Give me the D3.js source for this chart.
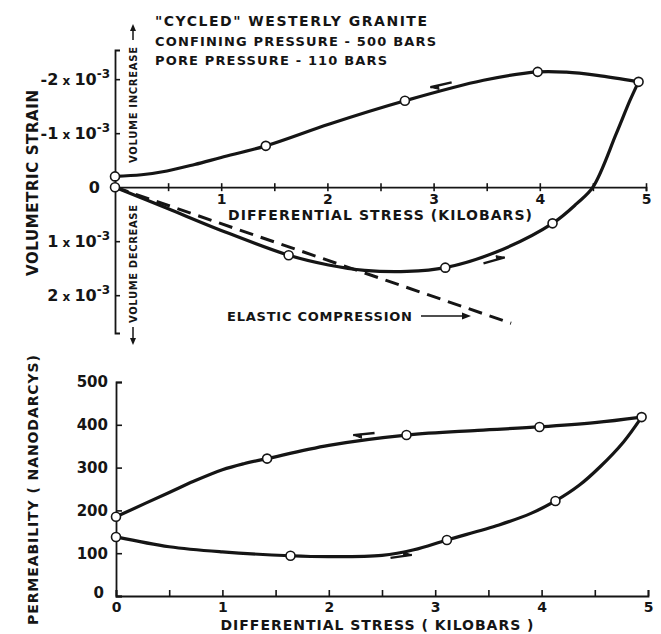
<!DOCTYPE html>
<html><head><meta charset="utf-8">
<script src="https://cdn.jsdelivr.net/npm/d3@7"></script>
<style>
body{margin:0;background:#fff}
text{font-family:"DejaVu Sans",sans-serif;font-weight:bold;fill:#151515}
</style>
</head><body>
<svg id="c" width="661" height="634"></svg>
<script>
// ---------------- DATA ----------------
const stressTicks = [0,0.5,1,1.5,2,2.5,3,3.5,4,4.5,5];
const strainTicks = [-2,-1,0,1,2];                 // units of 10^-3 (positive = volume decrease)
const strainTickMantissa = ["-2","-1","0","1","2"];
const permTicks = [0,100,200,300,400,500];

const titleLines = ["\"CYCLED\" WESTERLY GRANITE","CONFINING PRESSURE - 500 BARS","PORE PRESSURE - 110 BARS"];

// volumetric strain (x10^-3), loading branch and unloading branch
const strainLoadMarkers   = [[0,0],[1.635,1.26],[3.11,1.49],[4.12,0.67],[4.93,-1.95]];
const strainUnloadMarkers = [[3.98,-2.135],[2.73,-1.60],[1.42,-0.765],[0,-0.2]];
const strainLoadTrace   = [[0,0],[0.49,0.39],[1.0,0.80],[1.635,1.26],[2.01,1.44],[2.35,1.54],[2.75,1.56],[3.11,1.49],[3.59,1.20],[4.12,0.67],[4.35,0.30],[4.5,0],[4.72,-0.99],[4.85,-1.61],[4.93,-1.95]];
const strainUnloadTrace = [[4.93,-1.95],[4.54,-2.07],[4.25,-2.13],[3.98,-2.135],[3.47,-1.98],[2.73,-1.60],[2.02,-1.17],[1.42,-0.765],[1.0,-0.55],[0.75,-0.42],[0.49,-0.30],[0.25,-0.23],[0,-0.2]];
const elasticLine = [[0,0],[3.73,2.52]];
const strainArrows = [[3.17,-1.94,2.97,-1.85],[3.47,1.41,3.67,1.30]]; // tail -> head

// permeability (nanodarcys)
const permLoadMarkers   = [[0,138],[1.64,94],[3.11,131],[4.13,222],[4.94,418]];
const permUnloadMarkers = [[3.98,395],[2.73,376],[1.42,321],[0,185]];
const permLoadTrace   = [[0,138],[0.5,115],[1.0,103],[1.64,94],[2.0,92],[2.5,95],[2.8,108],[3.11,131],[3.6,166],[3.9,193],[4.13,222],[4.35,258],[4.55,302],[4.77,360],[4.94,418]];
const permUnloadTrace = [[4.94,418],[4.5,405],[3.98,395],[3.4,387],[2.73,376],[2.0,352],[1.42,321],[1.2,309],[1.0,295],[0.73,268],[0.5,242],[0,185]];
const permArrows = [[2.43,381,2.23,376],[2.58,89,2.78,96]];

// ---------------- DRAW ----------------
const svg = d3.select("#c");
const ink = "#151515";

const xTop = d3.scaleLinear().domain([0,5]).range([115,646]);
const yTop = d3.scaleLinear().domain([-2.54,2.7]).range([50,333]);
const xBot = d3.scaleLinear().domain([0,5]).range([116,648]);
const yBot = d3.scaleLinear().domain([0,500]).range([596,382]);

function styleAxis(g){
  g.selectAll("path.domain").attr("stroke",ink).attr("stroke-width",1.8);
  g.selectAll(".tick line").attr("stroke",ink).attr("stroke-width",1.6);
  g.selectAll(".tick text").attr("font-size",14).attr("font-family","DejaVu Sans").attr("font-weight","bold").attr("fill",ink);
}

// top x axis
const gxt = svg.append("g").attr("transform",`translate(0,${yTop(0)})`)
  .call(d3.axisBottom(xTop).tickValues(stressTicks).tickSizeOuter(0).tickSize(4)
    .tickFormat(d => (d>0 && d%1===0) ? d3.format("d")(d) : ""));
styleAxis(gxt);
gxt.selectAll(".tick line").attr("y1",-4).attr("y2",4);
gxt.selectAll(".tick text").attr("y",7);

// top y axis
const gyt = svg.append("g").attr("transform",`translate(${xTop(0)},0)`)
  .call(d3.axisLeft(yTop).tickValues(strainTicks.filter(d=>d!==0)).tickSizeOuter(0).tickSize(-5).tickFormat(""));
styleAxis(gyt);
strainTicks.forEach((v,i)=>{
  const t = svg.append("text").attr("x", v===0 ? 100 : 110).attr("y", yTop(v)+6)
    .attr("text-anchor","end").attr("font-size",16);
  t.append("tspan").text(strainTickMantissa[i]);
  if (v!==0){
    t.append("tspan").attr("font-size",12).text(" x ");
    t.append("tspan").text("10");
    t.append("tspan").attr("font-size",12).attr("dy",-7).text("-3");
  }
});

// bottom axes
const gxb = svg.append("g").attr("transform",`translate(0,${yBot(0)})`)
  .call(d3.axisBottom(xBot).tickValues(stressTicks).tickSizeOuter(0).tickSize(-6)
    .tickFormat(d => d%1===0 ? d3.format("d")(d) : ""));
styleAxis(gxb);
gxb.selectAll(".tick text").attr("y",6);

const gyb = svg.append("g").attr("transform",`translate(${xBot(0)},0)`)
  .call(d3.axisLeft(yBot).tickValues(permTicks).tickSizeOuter(0).tickSize(-6));
styleAxis(gyb);
gyb.selectAll(".tick text").attr("x",-8).attr("font-size",15);
gyb.selectAll(".tick").filter(d=>d===0).select("text").attr("x",-12).attr("dy","0.1em");

// curves
const lineT = d3.line().x(d=>xTop(d[0])).y(d=>yTop(d[1])).curve(d3.curveCatmullRom.alpha(0.5));
const lineB = d3.line().x(d=>xBot(d[0])).y(d=>yBot(d[1])).curve(d3.curveCatmullRom.alpha(0.5));
[strainLoadTrace,strainUnloadTrace].forEach(tr=>{
  svg.append("path").attr("d",lineT(tr)).attr("fill","none").attr("stroke",ink).attr("stroke-width",3.2).attr("stroke-linecap","round");
});
svg.append("path").attr("d",d3.line().x(d=>xTop(d[0])).y(d=>yTop(d[1]))(elasticLine))
  .attr("fill","none").attr("stroke",ink).attr("stroke-width",3).attr("stroke-dasharray","14,8");
[permLoadTrace,permUnloadTrace].forEach(tr=>{
  svg.append("path").attr("d",lineB(tr)).attr("fill","none").attr("stroke",ink).attr("stroke-width",3.2).attr("stroke-linecap","round");
});

// markers
function markers(data,xs,ys){
  svg.append("g").selectAll("circle").data(data).join("circle")
    .attr("cx",d=>xs(d[0])).attr("cy",d=>ys(d[1])).attr("r",4.5)
    .attr("fill","#fff").attr("stroke",ink).attr("stroke-width",1.6);
}
markers(strainLoadMarkers.concat(strainUnloadMarkers),xTop,yTop);
markers(permLoadMarkers.concat(permUnloadMarkers),xBot,yBot);

// direction harpoons
function harpoons(data,xs,ys){
  data.forEach(a=>{
    const x1=xs(a[0]),y1=ys(a[1]),x2=xs(a[2]),y2=ys(a[3]);
    const ang=Math.atan2(y2-y1,x2-x1), L=8;
    const bx=x2-L*Math.cos(ang)+4*Math.sin(ang), by=y2-L*Math.sin(ang)-4*Math.cos(ang);
    const bx2=x2-L*Math.cos(ang), by2=y2-L*Math.sin(ang);
    svg.append("path").attr("d",`M${x1},${y1}L${x2},${y2}`).attr("stroke",ink).attr("stroke-width",2.4);
    svg.append("path").attr("d",`M${x2},${y2}L${bx},${by}L${bx2},${by2}Z`).attr("fill",ink).attr("stroke",ink).attr("stroke-width",1);
  });
}
harpoons(strainArrows,xTop,yTop);
harpoons(permArrows,xBot,yBot);

// title
titleLines.forEach((s,i)=>{
  svg.append("text").attr("x",155).attr("y",26+i*19.5).attr("font-size",i===0?14:13)
    .attr("textLength",[272,281,232][i]).attr("lengthAdjust","spacing").text(s);
});

// axis titles
svg.append("text").attr("x",380).attr("y",220).attr("text-anchor","middle").attr("font-size",14)
  .attr("textLength",304).attr("lengthAdjust","spacing").text("DIFFERENTIAL STRESS (KILOBARS)");
svg.append("text").attr("x",377).attr("y",630).attr("text-anchor","middle").attr("font-size",14)
  .attr("textLength",313).attr("lengthAdjust","spacing").text("DIFFERENTIAL STRESS ( KILOBARS )");
svg.append("text").attr("transform","translate(38,183) rotate(-90)").attr("text-anchor","middle").attr("font-size",15)
  .attr("textLength",186).attr("lengthAdjust","spacing").text("VOLUMETRIC  STRAIN");
svg.append("text").attr("transform","translate(38,490) rotate(-90)").attr("text-anchor","middle").attr("font-size",14)
  .attr("textLength",270).attr("lengthAdjust","spacing").text("PERMEABILITY ( NANODARCYS)");

// volume increase / decrease labels
svg.append("text").attr("transform","translate(137,105) rotate(-90)").attr("text-anchor","middle").attr("font-size",10)
  .attr("textLength",116).attr("lengthAdjust","spacing").text("VOLUME INCREASE");
svg.append("text").attr("transform","translate(137,264) rotate(-90)").attr("text-anchor","middle").attr("font-size",10)
  .attr("textLength",118).attr("lengthAdjust","spacing").text("VOLUME DECREASE");
svg.append("path").attr("d","M133,40V28").attr("stroke",ink).attr("stroke-width",1.5);
svg.append("path").attr("d","M130,31L133,24L136,31Z").attr("fill",ink);
svg.append("path").attr("d","M133,327V341").attr("stroke",ink).attr("stroke-width",1.5);
svg.append("path").attr("d","M130,338L133,345L136,338Z").attr("fill",ink);

// elastic compression label + pointer
svg.append("text").attr("x",227).attr("y",321).attr("font-size",13)
  .attr("textLength",185).attr("lengthAdjust","spacing").text("ELASTIC  COMPRESSION");
svg.append("path").attr("d","M421,316H464").attr("stroke",ink).attr("stroke-width",1.5);
svg.append("path").attr("d","M462,312.5L471,316L462,319.5Z").attr("fill",ink);
</script>
</body></html>
